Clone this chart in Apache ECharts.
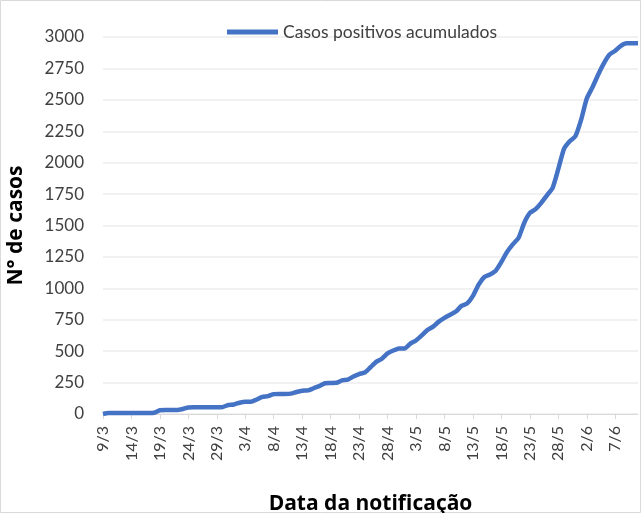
<!DOCTYPE html>
<html>
<head>
<meta charset="utf-8">
<script src="https://cdn.jsdelivr.net/npm/echarts@6/dist/echarts.min.js"></script>
<style>
  html, body { margin: 0; padding: 0; background: #fff; }
  #chart { width: 641px; height: 513px; }
</style>
</head>
<body>
<div id="chart"></div>
<script>
// daily dates 9/3 .. 11/6
var dates = [
  '9/3','10/3','11/3','12/3','13/3','14/3','15/3','16/3','17/3','18/3','19/3','20/3','21/3','22/3','23/3',
  '24/3','25/3','26/3','27/3','28/3','29/3','30/3','31/3',
  '1/4','2/4','3/4','4/4','5/4','6/4','7/4','8/4','9/4','10/4','11/4','12/4','13/4','14/4','15/4','16/4',
  '17/4','18/4','19/4','20/4','21/4','22/4','23/4','24/4','25/4','26/4','27/4','28/4','29/4','30/4',
  '1/5','2/5','3/5','4/5','5/5','6/5','7/5','8/5','9/5','10/5','11/5','12/5','13/5','14/5','15/5','16/5',
  '17/5','18/5','19/5','20/5','21/5','22/5','23/5','24/5','25/5','26/5','27/5','28/5','29/5','30/5','31/5',
  '1/6','2/6','3/6','4/6','5/6','6/6','7/6','8/6','9/6','10/6','11/6'
];

var casos = [
  0, 8, 8, 8, 8, 8, 8, 8, 8, 10,
  30, 32, 32, 32, 40, 52, 53, 53, 53, 53,
  53, 55, 72, 76, 90, 98, 98, 115, 137, 142,
  158, 160, 160, 162, 175, 185, 188, 205, 222, 245,
  247, 248, 268, 273, 298, 318, 330, 372, 415, 440,
  482, 505, 522, 522, 560, 585, 625, 668, 695, 735,
  765, 790, 815, 860, 880, 940, 1030, 1090, 1110, 1140,
  1210, 1290, 1350, 1400, 1520, 1600, 1630, 1680, 1740, 1800,
  1950, 2110, 2170, 2210, 2340, 2510, 2600, 2700, 2790, 2860,
  2890, 2930, 2950, 2950, 2950
];

var chart = echarts.init(document.getElementById('chart'));
var font = 'Lato, "Open Sans", sans-serif';
var titleFont = '"Open Sans", Lato, sans-serif';

chart.setOption({
  animation: false,
  textStyle: { fontFamily: font },
  graphic: [{
    type: 'rect',
    shape: { x: 0.5, y: 0.5, width: 640, height: 512 },
    style: { fill: 'none', stroke: '#d9d9d9', lineWidth: 1 },
    silent: true
  }],
  legend: {
    left: 222,
    top: 18,
    icon: 'rect',
    itemWidth: 51,
    itemHeight: 5,
    itemGap: 5,
    textStyle: { fontSize: 17.5, color: '#404040', fontFamily: font }
  },
  grid: { left: 103, right: 3, top: 37, bottom: 99, containLabel: false, outerBoundsMode: 'none' },
  xAxis: {
    type: 'category',
    data: dates,
    boundaryGap: false,
    name: 'Data da notificação',
    nameLocation: 'middle',
    nameGap: 80,
    nameTextStyle: { fontSize: 21, fontWeight: 'bold', color: '#000', fontFamily: titleFont },
    axisLine: { lineStyle: { color: '#d9d9d9', width: 1 } },
    axisTick: { interval: 4, length: 5, lineStyle: { color: '#d9d9d9' } },
    axisLabel: { interval: 4, rotate: 90, fontSize: 16, color: '#404040', margin: 12, fontFamily: font },
    splitLine: { show: false }
  },
  yAxis: {
    type: 'value',
    min: 0,
    max: 3000,
    interval: 250,
    name: 'N° de casos',
    nameLocation: 'middle',
    nameGap: 76,
    nameTextStyle: { fontSize: 21, fontWeight: 'bold', color: '#000', fontFamily: titleFont },
    axisLine: { show: false },
    axisTick: { show: false },
    axisLabel: {
      fontSize: 17, color: '#404040', margin: 19, fontFamily: font,
      formatter: function (v) { return String(v); }
    },
    splitLine: { lineStyle: { color: '#ececec', width: 1.5 } }
  },
  series: [{
    name: 'Casos positivos acumulados',
    type: 'line',
    data: casos,
    showSymbol: false,
    smooth: 0.2,
    itemStyle: { color: '#4472C4' },
    lineStyle: { color: '#4472C4', width: 4.5 }
  }]
});
</script>
</body>
</html>
